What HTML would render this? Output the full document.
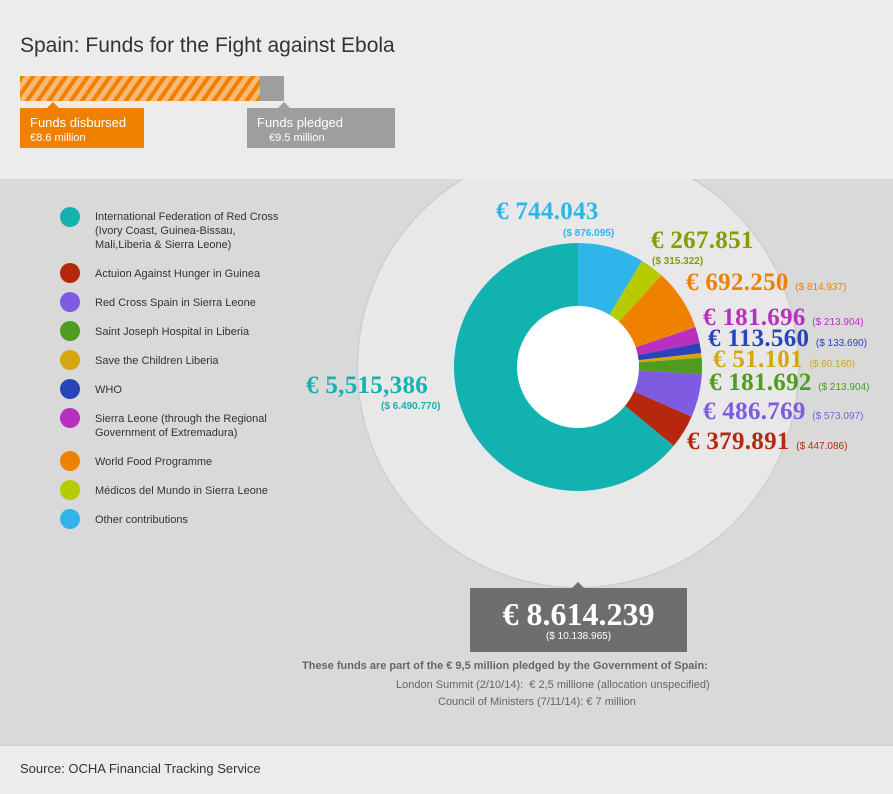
<!DOCTYPE html>
<html><head><meta charset="utf-8"><style>
body{margin:0;width:893px;height:793px;overflow:hidden;font-family:"Liberation Sans",sans-serif;background:#ececec;position:relative}
.a{position:absolute;white-space:nowrap}
.leg{position:absolute;left:95px;font-size:11px;color:#333;line-height:14px}
.dot{position:absolute;left:60px;width:20px;height:20px;border-radius:50%}
.v{position:absolute;white-space:nowrap;font-family:"Liberation Serif",serif;font-weight:bold;font-size:25px;letter-spacing:0.3px}
.s{font-family:"Liberation Sans",sans-serif;font-weight:normal;font-size:10px;letter-spacing:0}
</style></head><body>
<div class="a" style="left:0;top:179px;width:893px;height:566px;background:#d9d9d9"></div>
<div class="a" style="left:358px;top:147px;width:440px;height:440px;border-radius:50%;background:#e8e8e8;box-shadow:0 0 1px 1px #c8c8c8"></div>
<div class="a" style="left:0;top:0;width:893px;height:179px;background:#ececec"></div>
<div class="a" style="left:20px;top:34px;font-size:21px;color:#333">Spain: Funds for the Fight against Ebola</div>
<div class="a" style="left:20px;top:76px;width:240px;height:25px;background:repeating-linear-gradient(-55deg,#f08000 0 4px,#f7b878 4px 9px)"></div>
<div class="a" style="left:260px;top:76px;width:24px;height:25px;background:#9e9e9e"></div>
<div class="a" style="left:20px;top:108px;width:124px;height:40px;background:#f08000;color:#fff"><div style="position:absolute;left:27px;top:-6px;border:6px solid transparent;border-top:0;border-bottom-color:#f08000"></div><div style="padding:8px 0 0 10px;font-size:13px;line-height:14px">Funds disbursed<br><span style="font-size:11px">€8.6 million</span></div></div>
<div class="a" style="left:247px;top:108px;width:148px;height:40px;background:#9e9e9e;color:#fff"><div style="position:absolute;left:31px;top:-6px;border:6px solid transparent;border-top:0;border-bottom-color:#9e9e9e"></div><div style="padding:8px 0 0 10px;font-size:13px;line-height:14px">Funds pledged<br><span style="font-size:11px;padding-left:12px">€9.5 million</span></div></div>
<div class="a" style="left:0;top:745px;width:893px;height:48px;background:#ececec;border-top:1px solid #ccc"></div>
<div class="a" style="left:20px;top:761px;font-size:13px;color:#333">Source: OCHA Financial Tracking Service</div>
<svg class="a" style="left:0;top:0" width="893" height="793" id="sv"></svg>
<div class="dot" style="top:207px;background:#12b2b0"></div><div class="leg" style="top:210px">International Federation of Red Cross<br>(Ivory Coast, Guinea-Bissau,<br>Mali,Liberia &amp; Sierra Leone)</div>
<div class="dot" style="top:263px;background:#b5280e"></div><div class="leg" style="top:267px">Actuion Against Hunger in Guinea</div>
<div class="dot" style="top:292px;background:#7e5be0"></div><div class="leg" style="top:296px">Red Cross Spain in Sierra Leone</div>
<div class="dot" style="top:321px;background:#4f9c1e"></div><div class="leg" style="top:325px">Saint Joseph Hospital in Liberia</div>
<div class="dot" style="top:350px;background:#d4a80c"></div><div class="leg" style="top:354px">Save the Children Liberia</div>
<div class="dot" style="top:379px;background:#2944b8"></div><div class="leg" style="top:383px">WHO</div>
<div class="dot" style="top:408px;background:#b92fc0"></div><div class="leg" style="top:412px">Sierra Leone (through the Regional<br>Government of Extremadura)</div>
<div class="dot" style="top:451px;background:#f08000"></div><div class="leg" style="top:455px">World Food Programme</div>
<div class="dot" style="top:480px;background:#b7cc00"></div><div class="leg" style="top:484px">Médicos del Mundo in Sierra Leone</div>
<div class="dot" style="top:509px;background:#2fb5ea"></div><div class="leg" style="top:513px">Other contributions</div>

<div class="v" style="left:496px;top:198px;color:#2fb5ea">€ 744.043</div><div class="a s" style="left:563px;top:228px;color:#2fb5ea;font-weight:bold">($ 876.095)</div>
<div class="v" style="left:651px;top:227px;color:#8a9a00">€ 267.851</div><div class="a s" style="left:652px;top:256px;color:#8a9a00;font-weight:bold">($ 315.322)</div>
<div class="v" style="left:686px;top:269px;color:#f08000">€ 692.250 <span class="s">($ 814.937)</span></div>
<div class="v" style="left:703px;top:304px;color:#b92fc0">€ 181.696 <span class="s">($ 213.904)</span></div>
<div class="v" style="left:708px;top:325px;color:#2944b8">€ 113.560 <span class="s">($ 133.690)</span></div>
<div class="v" style="left:713px;top:346px;color:#d4a80c">€ 51.101 <span class="s">($ 60.160)</span></div>
<div class="v" style="left:709px;top:369px;color:#4f9c1e">€ 181.692 <span class="s">($ 213.904)</span></div>
<div class="v" style="left:703px;top:398px;color:#7e5be0">€ 486.769 <span class="s">($ 573.097)</span></div>
<div class="v" style="left:687px;top:428px;color:#b5280e">€ 379.891 <span class="s">($ 447.086)</span></div>
<div class="v" style="left:306px;top:372px;color:#12b2b0">€ 5,515,386</div><div class="a s" style="left:381px;top:401px;color:#12b2b0;font-weight:bold">($ 6.490.770)</div>

<div class="a" style="left:470px;top:588px;width:217px;height:64px;background:#6e6e6e;color:#fff;text-align:center">
<div style="position:absolute;left:102px;top:-6px;border:6px solid transparent;border-top:0;border-bottom-color:#6e6e6e"></div>
<div style="font-family:'Liberation Serif',serif;font-weight:bold;font-size:32px;margin-top:9px;line-height:34px">€ 8.614.239</div>
<div style="font-size:10px">($ 10.138.965)</div></div>
<div class="a" style="left:302px;top:660px;font-size:11px;font-weight:bold;color:#666">These funds are part of the € 9,5 million pledged by the Government of Spain:</div>
<div class="a" style="left:396px;top:679px;font-size:11px;color:#666">London Summit (2/10/14):&nbsp; € 2,5 millione (allocation unspecified)</div>
<div class="a" style="left:438px;top:696px;font-size:11px;color:#666">Council of Ministers (7/11/14): € 7 million</div>
<script>
var d=[[744043,"#2fb5ea"],[267851,"#b7cc00"],[692250,"#f08000"],[181696,"#b92fc0"],[113560,"#2944b8"],[51101,"#d4a80c"],[181692,"#4f9c1e"],[486769,"#7e5be0"],[379891,"#b5280e"],[5515386,"#12b2b0"]];
var T=8614239,cx=578,cy=367,R=124,r=61,a=0,h="";
function p(an,rad){return [cx+rad*Math.sin(an),cy-rad*Math.cos(an)];}
d.forEach(function(e){var b=a+e[0]/T*2*Math.PI,l=(b-a)>Math.PI?1:0;
var p1=p(a,R),p2=p(b,R);
h+='<path d="M'+cx+' '+cy+'L'+p1+'A'+R+' '+R+' 0 '+l+' 1 '+p2+'Z" fill="'+e[1]+'"/>';a=b;});
h+='<circle cx="'+cx+'" cy="'+cy+'" r="'+r+'" fill="#fff"/>';
document.getElementById("sv").innerHTML=h;
</script>
</body></html>
